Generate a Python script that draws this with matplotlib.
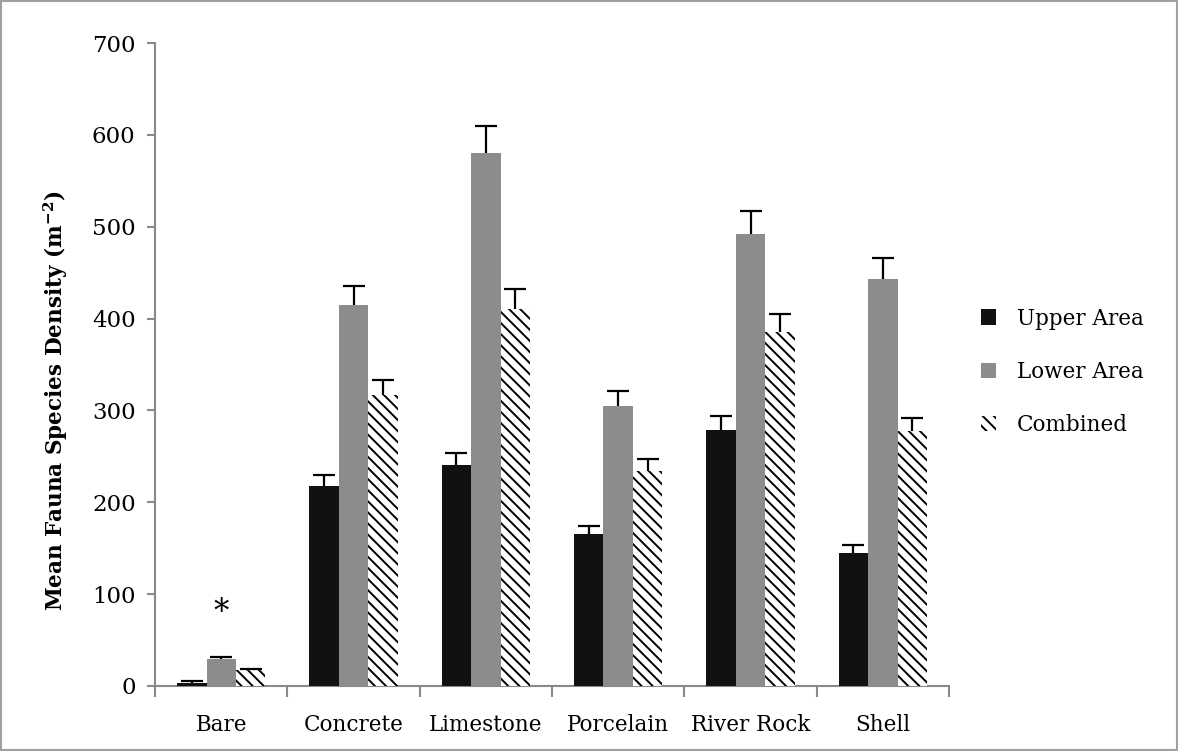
import matplotlib
matplotlib.use("Agg")
import matplotlib.pyplot as plt
import numpy as np
from matplotlib.patches import Rectangle, Patch

categories = ["Bare", "Concrete", "Limestone", "Porcelain", "River Rock", "Shell"]
upper = [3, 218, 241, 165, 279, 145]
upper_err = [2, 12, 13, 9, 15, 8]
lower = [29, 415, 580, 305, 492, 443]
lower_err = [2, 21, 30, 16, 25, 23]
combined = [17, 317, 411, 234, 385, 278]
combined_err = [1, 16, 21, 13, 20, 14]
series_labels = ["Upper Area", "Lower Area", "Combined"]
yticks = [0, 100, 200, 300, 400, 500, 600, 700]

FONT = "DejaVu Serif"
plt.rcParams["font.family"] = FONT
plt.rcParams["mathtext.fontset"] = "custom"
plt.rcParams["mathtext.rm"] = FONT
plt.rcParams["mathtext.bf"] = FONT + ":bold"
plt.rcParams["hatch.linewidth"] = 1.4

fig = plt.figure(figsize=(11.78, 7.51), dpi=100)
ax = fig.add_axes([0.1316, 0.0866, 0.674, 0.856])

x = np.arange(len(categories))
w = 0.222
err_kw = dict(ecolor="black", elinewidth=1.6, capsize=8, capthick=1.6)
conts = []
conts.append(ax.bar(x - w, upper, w, color="#111111", yerr=[np.zeros(len(upper)), upper_err],
                    error_kw=err_kw, label=series_labels[0], zorder=3))
conts.append(ax.bar(x, lower, w, color="#8c8c8c", yerr=[np.zeros(len(lower)), lower_err],
                    error_kw=err_kw, label=series_labels[1], zorder=3))
conts.append(ax.bar(x + w, combined, w, color="white", edgecolor="black", linewidth=0,
                    hatch="\\\\\\", yerr=[np.zeros(len(combined)), combined_err],
                    error_kw=err_kw, label=series_labels[2], zorder=3))
# remove lower caps (sitting on bar tops)
for c in conts:
    caps = c.errorbar.lines[1]
    if len(caps) == 2:
        caps[0].remove()

ax.text(0, 80, "*", ha="center", va="center", fontsize=22)

ax.set_xlim(-0.5, len(categories) - 0.5)
ax.set_ylim(0, 700)
ax.set_yticks(yticks)
ax.set_xticks(x)
ax.set_xticklabels(categories, fontsize=15.5)
ax.set_xticks(np.arange(len(categories) + 1) - 0.5, minor=True)
ax.tick_params(axis="x", which="major", length=0, pad=20)
ax.tick_params(axis="x", which="minor", length=8, color="#8a8a8a", width=1.5, direction="out")
ax.tick_params(axis="y", length=6, color="#8a8a8a", width=1.5, labelsize=16.5, pad=8)
for s in ["top", "right"]:
    ax.spines[s].set_visible(False)
for s in ["left", "bottom"]:
    ax.spines[s].set_color("#8a8a8a")
    ax.spines[s].set_linewidth(1.5)

ax.set_ylabel(r"Mean Fauna Species Density (m$^{\mathbf{-2}}$)", fontsize=15.5,
              fontweight="bold")
ax.yaxis.set_label_coords(-0.107, 0.443)

handles = [Patch(facecolor="#111111"), Patch(facecolor="#8c8c8c"),
           Patch(facecolor="white", hatch="\\\\\\", edgecolor="black", linewidth=0)]
leg = fig.legend(handles, series_labels, loc="center left", bbox_to_anchor=(0.816, 0.505),
                 frameon=False, fontsize=15.5, handlelength=0.7, handleheight=0.7,
                 labelspacing=1.45, handletextpad=1.0)

fig.patches.append(Rectangle((0.001, 0.001), 0.998, 0.998, transform=fig.transFigure,
                             fill=False, edgecolor="#a0a0a0", linewidth=1.5))

fig.savefig("out.png", dpi=100)
